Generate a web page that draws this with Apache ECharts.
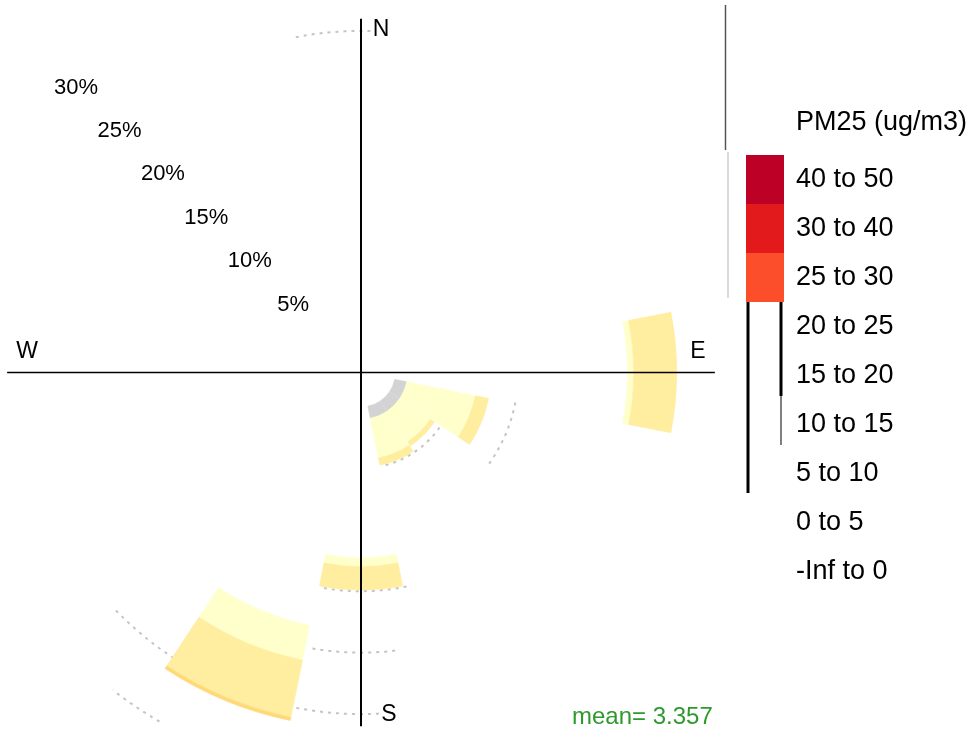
<!DOCTYPE html>
<html>
<head>
<meta charset="utf-8">
<title>PM25 pollution rose</title>
<script src="https://cdn.jsdelivr.net/npm/echarts@6/dist/echarts.min.js"></script>
<style>
    html, body { margin: 0; padding: 0; background: #fff; }
    #chart { width: 971px; height: 735px; }
</style>
</head>
<body>
<div id="chart"></div>
<script>
// wind sectors, clockwise from north, 22.5 degrees apart
const directions = ['N', 'NNE', 'NE', 'ENE', 'E', 'ESE', 'SE', 'SSE', 'S', 'SSW', 'SW', 'WSW', 'W', 'WNW', 'NW', 'NNW'];
// PM25 bands (ug/m3)
const intervals = ['-Inf to 0', '0 to 5', '5 to 10', '10 to 15', '15 to 20', '20 to 25', '25 to 30', '30 to 40', '40 to 50'];
const intervalColours = ['#d3d3d3', '#ffffcc', '#ffeda0', '#fed976', '#feb24c', '#fd8d3c', '#fc4e2a', '#e31a1c', '#bd0026'];
// legend rows that still show a colour box
const legendBoxes = ['40 to 50', '30 to 40', '25 to 30'];
// frequency labels (%)
const percentTicks = [5, 10, 15, 20, 25, 30];
// pieces of the rose that show: [sector, band, from %, to %]
const roseSegments = [
    ['E', '0 to 5', 18.9, 19.4],
    ['E', '5 to 10', 19.4, 22.9],
    ['ESE', '-Inf to 0', 0, 1.0],
    ['ESE', '0 to 5', 1.0, 6.7],
    ['ESE', '5 to 10', 6.7, 7.8],
    ['SE', '-Inf to 0', 0, 1.0],
    ['SE', '0 to 5', 1.0, 4.0],
    ['SE', '5 to 10', 4.0, 4.4],
    ['SSE', '-Inf to 0', 0, 1.0],
    ['SSE', '0 to 5', 1.0, 4.3],
    ['SSE', '5 to 10', 4.3, 4.9],
    ['S', '0 to 5', 12.3, 13.0],
    ['S', '5 to 10', 13.0, 14.9],
    ['SSW', '0 to 5', 18.2, 21.1],
    ['SSW', '5 to 10', 21.1, 25.85],
    ['SSW', '10 to 15', 25.85, 26.1]
];
// dotted frequency rings that show: [ring %, from bearing, to bearing]
const ringArcs = [
    [25, 349, 362],
    [5, 125, 167],
    [10, 101, 126],
    [15, 168, 191],
    [20, 173, 190],
    [25, 177, 226],
    [30, 210, 218]
];
const compass = ['N', 'E', 'S', 'W'];
const meanValue = 3.357;
const pollutant = 'PM25 (ug/m3)';

const FONT = "'Liberation Sans', Arial, sans-serif";
const HALF_SECTOR = 11;
const ARM = 26;
const labelOffset = { N: [20, 11], E: [-17, -21], S: [28, -12], W: [20, -21] };

function sectorItem(params, api) {
    const bearing = api.value(0);
    const inner = api.coord([api.value(1), bearing - HALF_SECTOR]);
    const outer = api.coord([api.value(2), bearing + HALF_SECTOR]);
    const colour = api.visual('color');
    return {
        type: 'sector',
        shape: {
            cx: params.coordSys.cx, cy: params.coordSys.cy,
            r0: inner[2], r: outer[2],
            startAngle: -inner[3], endAngle: -outer[3], clockwise: true
        },
        style: { fill: colour, stroke: colour, lineWidth: 0.6 }
    };
}

function ringItem(params, api) {
    const a = api.coord([api.value(0), api.value(1)]);
    const b = api.coord([api.value(0), api.value(2)]);
    return {
        type: 'arc',
        shape: {
            cx: params.coordSys.cx, cy: params.coordSys.cy, r: a[2],
            startAngle: -a[3], endAngle: -b[3], clockwise: true
        },
        style: { stroke: '#c4c4c4', fill: null, lineWidth: 2, lineDash: [3, 5] }
    };
}

function armItem(params, api) {
    const bearing = api.value(0);
    const end = api.coord([ARM, bearing]);
    const name = compass[params.dataIndex];
    const off = labelOffset[name];
    return {
        type: 'group',
        children: [
            {
                type: 'line',
                shape: { x1: params.coordSys.cx, y1: params.coordSys.cy, x2: end[0], y2: end[1] },
                style: { stroke: '#000', lineWidth: bearing % 180 === 0 ? 2 : 1.5 }
            },
            {
                type: 'text',
                x: end[0] + off[0],
                y: end[1] + off[1],
                style: {
                    text: name, fill: '#000', fontSize: 23, fontFamily: FONT,
                    align: 'center', verticalAlign: 'middle'
                }
            }
        ]
    };
}

const chart = echarts.init(document.getElementById('chart'));

const bandSeries = intervals.map((band, i) => ({
    name: band,
    type: 'custom',
    coordinateSystem: 'polar',
    polarIndex: 0,
    z: 2,
    itemStyle: { color: intervalColours[i] },
    renderItem: sectorItem,
    data: roseSegments
        .filter(s => s[1] === band)
        .map(s => [directions.indexOf(s[0]) * 22.5, s[2], s[3]])
}));

const option = {
    animation: false,
    backgroundColor: '#fff',
    title: [
        {
            text: pollutant, left: 796, top: 109, padding: 0,
            textStyle: { fontSize: 27, fontWeight: 'normal', color: '#000', fontFamily: FONT }
        },
        {
            text: 'mean= ' + meanValue, left: 572, top: 705, padding: 0,
            textStyle: { fontSize: 24, fontWeight: 'normal', color: '#2e9a2e', fontFamily: FONT }
        }
    ],
    legend: {
        orient: 'vertical',
        left: 746,
        top: 155,
        padding: 0,
        itemWidth: 38,
        itemHeight: 49,
        itemGap: 0,
        icon: 'rect',
        selectedMode: false,
        data: intervals.slice().reverse().map(band => (
            legendBoxes.includes(band) ? { name: band } : { name: band, itemStyle: { opacity: 0 } }
        )),
        textStyle: { fontSize: 27, color: '#000', fontFamily: FONT, padding: [3, 0, 0, 7] }
    },
    polar: [
        { center: [361, 372.5], radius: 403 },
        { center: [361, 372.5], radius: 403 }
    ],
    angleAxis: [
        { polarIndex: 0, type: 'value', min: 0, max: 360, startAngle: 90, clockwise: true, show: false },
        { polarIndex: 1, type: 'value', min: 0, max: 360, startAngle: 135, clockwise: true, show: false }
    ],
    radiusAxis: [
        { polarIndex: 0, type: 'value', min: -2.8, max: 30, show: false },
        {
            polarIndex: 1, type: 'value', min: -2.8, max: 30,
            axisLine: { show: false },
            axisTick: { show: false },
            splitLine: { show: false },
            axisLabel: {
                customValues: percentTicks,
                formatter: v => (v > 0 ? v + '%' : ''),
                margin: 0,
                align: 'center',
                verticalAlign: 'middle',
                fontSize: 22,
                color: '#000',
                fontFamily: FONT
            }
        }
    ],
    graphic: [
        // stray legend strokes
        { type: 'line', shape: { x1: 725.5, y1: 5, x2: 725.5, y2: 150 }, style: { stroke: '#555', lineWidth: 1.5 } },
        { type: 'line', shape: { x1: 728, y1: 152, x2: 728, y2: 298 }, style: { stroke: '#d9d9d9', lineWidth: 2 } },
        { type: 'line', shape: { x1: 748, y1: 300, x2: 748, y2: 493 }, style: { stroke: '#000', lineWidth: 3 } },
        { type: 'line', shape: { x1: 781, y1: 300, x2: 781, y2: 396 }, style: { stroke: '#000', lineWidth: 3 } },
        { type: 'line', shape: { x1: 781, y1: 396, x2: 781, y2: 445 }, style: { stroke: '#000', lineWidth: 1 } }
    ],
    series: [
        {
            name: 'rings',
            type: 'custom',
            coordinateSystem: 'polar',
            polarIndex: 0,
            z: 1,
            silent: true,
            renderItem: ringItem,
            data: ringArcs
        },
        ...bandSeries,
        {
            name: 'axes',
            type: 'custom',
            coordinateSystem: 'polar',
            polarIndex: 0,
            z: 3,
            silent: true,
            renderItem: armItem,
            data: compass.map((c, i) => [i * 90])
        }
    ]
};

chart.setOption(option);
</script>
</body>
</html>
